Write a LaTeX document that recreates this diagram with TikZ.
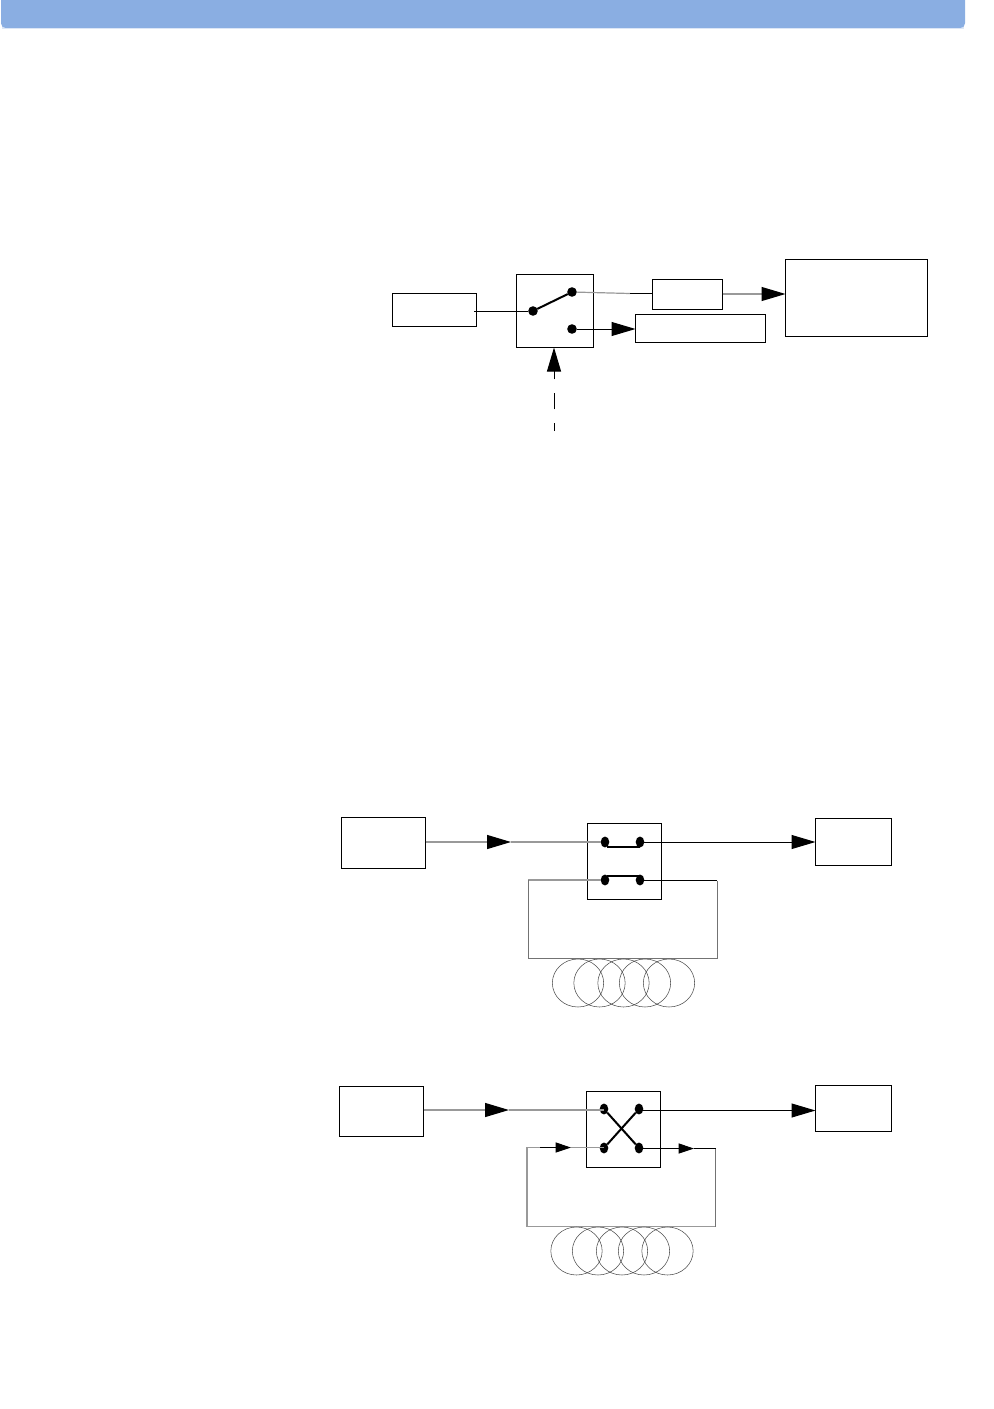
\documentclass[tikz,border=0pt]{standalone}
\usetikzlibrary{arrows.meta,shapes.geometric}
\definecolor{banner}{HTML}{8AAEE2}
\definecolor{bannerlight}{HTML}{DCE6F6}
\newcommand{\pxbox}[5]{%
  \pgfmathsetmacro{\pxw}{(#4-#2)*0.75}\pgfmathsetmacro{\pxh}{(#5-#3)*0.75}%
  \pgfmathsetmacro{\pxcx}{(#2+#4)/2}\pgfmathsetmacro{\pxcy}{(#3+#5)/2}%
  \node[blockbox,minimum width=\pxw pt,minimum height=\pxh pt] (#1) at (\pxcx,\pxcy) {};}
\tikzset{
  blockbox/.style={draw=black,line width=0.75pt,rectangle,inner sep=0pt,outer sep=0pt},
  roundterm/.style={fill=black,draw=none,circle,inner sep=0pt,outer sep=0pt,minimum size=7.2pt},
  ovalterm/.style={fill=black,draw=none,ellipse,inner sep=0pt,outer sep=0pt,minimum width=6.4pt,minimum height=8.2pt},
  signal/.style={draw=black,line width=0.75pt},
  paleline/.style={draw=black!40,line width=0.9pt},
  midline/.style={draw=black!55,line width=0.6pt},
  contact/.style={draw=black,line width=1.5pt},
  bigtip/.style={-{Triangle[length=18pt,width=10.5pt,color=black]}},
  smalltip/.style={-{Triangle[length=11.5pt,width=7.5pt,color=black]}},
  coil/.style={draw=black!70,line width=0.4pt,ellipse,inner sep=0pt,outer sep=0pt,minimum width=38.5pt,minimum height=36pt},
}
\begin{document}
\begin{tikzpicture}[x=0.75pt,y=-0.75pt]
\useasboundingbox (0,0) rectangle (993,1409);
% banner
\fill[bannerlight] (2,20) rectangle (964,29);
\fill[banner,rounded corners=3.5pt] (1,-6) rectangle (965,28);
% ---------- diagram 1
\pxbox{srcA}{392.5}{293.5}{476.5}{326.5}
\pxbox{swA}{516.5}{274.5}{593.5}{347.5}
\pxbox{midA}{652.5}{279.5}{722.5}{309.5}
\pxbox{lowA}{635.5}{314.5}{765.5}{342.5}
\pxbox{bigA}{785.5}{259.5}{927.5}{336.5}
\node[roundterm] (pA) at (533,311) {};
\node[roundterm] (qA) at (572,292) {};
\node[roundterm] (rA) at (572,329) {};
\coordinate (midinA) at (630,293.5);
\coordinate (ctlA) at (554,431);
\coordinate (ctlB) at (554,369);
\draw[signal] (474,311) -- (pA);
\draw[contact] (pA) -- (qA);
\draw[paleline] (qA) -- (midinA);
\draw[signal] (midinA) -- (midA.west |- midinA);
\draw[paleline,bigtip] (midA.east |- 0,294) -- (bigA.west |- 0,294);
\draw[signal,bigtip] (rA) -- (lowA.west |- rA);
\draw[signal,bigtip] (ctlB) -- (swA.south -| ctlB);
\draw[signal,dash pattern=on 12.4pt off 10.1pt,dash phase=6.2pt] (ctlA) -- (ctlB);
% ---------- diagram 2
\pxbox{srcB}{341.5}{817.5}{425.5}{868.5}
\pxbox{swB}{587.5}{823.5}{661.5}{899.5}
\pxbox{outB}{815.5}{818.5}{891.5}{865.5}
\node[ovalterm] (aB) at (605,842) {};
\node[ovalterm] (bB) at (640,842) {};
\node[ovalterm] (cB) at (605,880) {};
\node[ovalterm] (dB) at (640,880) {};
\coordinate (ltB) at (528,880);
\coordinate (lbB) at (528,958);
\coordinate (rbB) at (717,958);
\coordinate (rtB) at (717,880.5);
\draw[paleline,bigtip] (srcB.east |- 0,842) -- (511,842);
\draw[paleline] (511,842) -- (aB);
\draw[signal,bigtip] (bB) -- (outB.west |- bB);
\draw[contact] (607,847) -- (640,847);
\draw[contact] (607,875.5) -- (640,875.5);
\draw[paleline] (cB) -- (ltB);
\draw[midline] (ltB) -- (lbB);
\draw[midline] (lbB) -- (rbB) -- (rtB);
\draw[signal] (rtB) -- (dB.center |- rtB);
\foreach \n/\cx in {a/578,b/599.5,c/623.5,d/645,e/669} \node[coil] (coilB\n) at (\cx,983) {};
% ---------- diagram 3
\pxbox{srcC}{339.5}{1086.5}{423.5}{1136.5}
\pxbox{swC}{586.5}{1091.5}{660.5}{1167.5}
\pxbox{outC}{815.5}{1085.5}{891.5}{1131.5}
\node[ovalterm] (aC) at (604,1109) {};
\node[ovalterm] (bC) at (639,1109) {};
\node[ovalterm] (cC) at (604,1148) {};
\node[ovalterm] (dC) at (639,1148) {};
\coordinate (ltC) at (527,1147.5);
\coordinate (lbC) at (527,1226.5);
\coordinate (rbC) at (715.5,1226.5);
\coordinate (rtC) at (715.5,1148.5);
\draw[paleline,bigtip] (srcC.east |- 0,1110) -- (509,1110);
\draw[paleline] (509,1110) -- (aC.center |- 0,1110);
\draw[signal,bigtip] (bC.center |- 0,1110.5) -- (outC.west |- 0,1110.5);
\draw[contact] (aC) -- (dC);
\draw[contact] (bC) -- (cC);
\draw[paleline] (cC.center |- ltC) -- (571,1147.5);
\draw[signal,smalltip] (540,1147.5) -- (571,1147.5);
\draw[paleline] (540,1147.5) -- (ltC) -- (lbC) -- (rbC);
\draw[midline] (rbC) -- (rtC);
\draw[signal,smalltip] (dC.center |- rtC) -- (694,1148.5);
\draw[signal] (694,1148.5) -- (rtC);
\foreach \n/\cx in {a/576.5,b/598,c/622,d/644,e/667.5} \node[coil] (coilC\n) at (\cx,1251) {};
\end{tikzpicture}
\end{document}
